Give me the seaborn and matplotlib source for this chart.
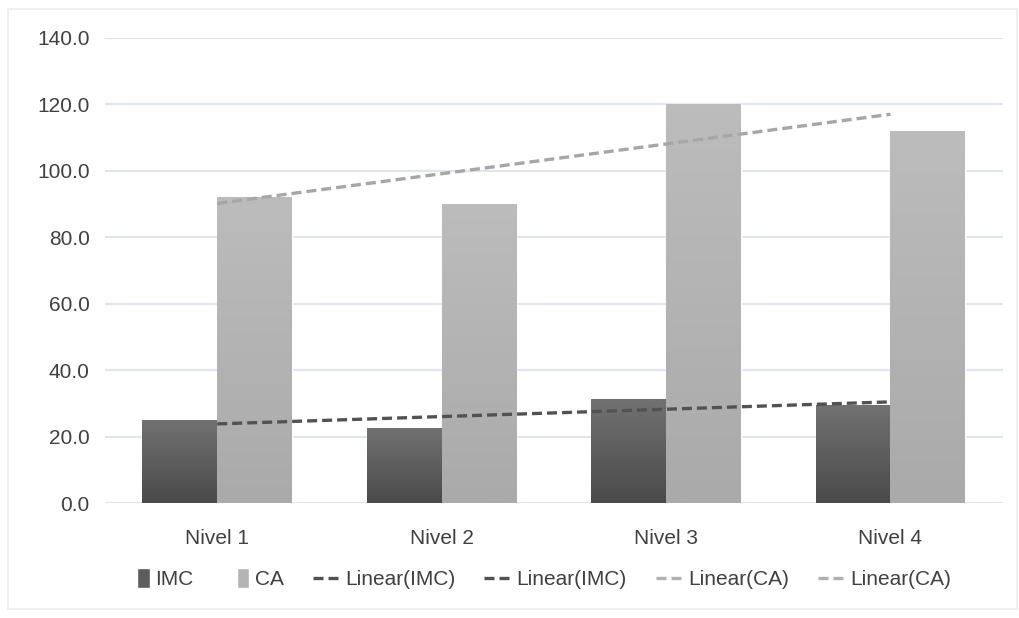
import numpy as np
import pandas as pd
import matplotlib.pyplot as plt
import seaborn as sns
from matplotlib.patches import Patch, Rectangle
from matplotlib.lines import Line2D
from matplotlib.colors import LinearSegmentedColormap
from matplotlib.legend_handler import HandlerPatch

# Datos
niveles = ["Nivel 1", "Nivel 2", "Nivel 3", "Nivel 4"]
imc = [25.0, 22.7, 31.3, 29.5]
ca = [92.2, 90.0, 120.0, 112.0]
series = ["IMC", "CA"]
yticks = [0, 20, 40, 60, 80, 100, 120, 140]

df = pd.DataFrame({
    "nivel": niveles * 2,
    "serie": ["IMC"] * 4 + ["CA"] * 4,
    "valor": imc + ca,
})

sns.set_style("white")
plt.rcParams["font.family"] = ["Liberation Sans", "DejaVu Sans"]

fig = plt.figure(figsize=(10.19, 6.18), dpi=100)
ax = fig.add_axes([0.103, 0.186, 0.881, 0.753])

sns.barplot(data=df, x="nivel", y="valor", hue="serie", order=niveles,
            hue_order=series, palette={"IMC": "#5c5c5c", "CA": "#b4b4b4"},
            width=0.667, saturation=1, legend=False, ax=ax, zorder=2)

# degradado en las barras
cmap_imc = LinearSegmentedColormap.from_list("imc", ["#4a4a4a", "#727272"])
cmap_ca = LinearSegmentedColormap.from_list("ca", ["#aaaaaa", "#bcbcbc"])
grad = np.linspace(0, 1, 256).reshape(-1, 1)
for i, p in enumerate(ax.patches):
    cmap = cmap_imc if i < 4 else cmap_ca
    x0, y0 = p.get_x(), p.get_y()
    w, h = p.get_width(), p.get_height()
    im = ax.imshow(grad, cmap=cmap, origin="lower", aspect="auto",
                   extent=[x0, x0 + w, y0, y0 + h], zorder=2.5)
    im.set_clip_path(p)

# lineas de tendencia lineal
xs = np.arange(len(niveles))
fit_imc = np.polyval(np.polyfit(xs, imc, 1), xs)
fit_ca = np.polyval(np.polyfit(xs, ca, 1), xs)
ax.plot(xs, fit_ca, color="#a6a6a6", lw=2.4, ls=(0, (3, 1.5)), zorder=3)
ax.plot(xs, fit_imc, color="#525252", lw=2.4, ls=(0, (3, 1.5)), zorder=3)

ax.set_xlim(-0.5, 3.5)
ax.set_ylim(0, 140)
ax.set_yticks(yticks)
ax.set_yticklabels([f"{v:.1f}" for v in yticks])
ax.yaxis.grid(True, color="#e1e4ec", lw=1.6, zorder=0)
ax.set_axisbelow(True)
for s in ax.spines.values():
    s.set_visible(False)
ax.tick_params(axis="both", length=0, labelsize=15, colors="#404040")
ax.tick_params(axis="x", pad=19)
ax.tick_params(axis="y", pad=11)
ax.set_xlabel("")
ax.set_ylabel("")


def cuadro(legend, orig_handle, xdescent, ydescent, width, height, fontsize):
    # cuadrito estrecho como en la leyenda original
    return Rectangle((width * 0.55 - xdescent, -ydescent - 0.15 * height),
                     width * 0.45, height * 1.3)


handles = [
    Patch(facecolor="#5c5c5c", label="IMC"),
    Patch(facecolor="#b4b4b4", label="CA"),
    Line2D([], [], color="#525252", lw=2.4, ls=(0, (3, 1.5)), label="Linear(IMC)"),
    Line2D([], [], color="#525252", lw=2.4, ls=(0, (3, 1.5)), label="Linear(IMC)"),
    Line2D([], [], color="#b0b0b0", lw=2.4, ls=(0, (3, 1.5)), label="Linear(CA)"),
    Line2D([], [], color="#b0b0b0", lw=2.4, ls=(0, (3, 1.5)), label="Linear(CA)"),
]
fig.legend(handles=handles, loc="center", bbox_to_anchor=(0.527, 0.062), ncol=6,
           frameon=False, fontsize=15, handlelength=1.3, handleheight=0.8,
           handletextpad=0.25, columnspacing=1.4, labelcolor="#404040",
           handler_map={Patch: HandlerPatch(patch_func=cuadro)})

# marco exterior tenue
fig.patches.append(Rectangle((0.008, 0.015), 0.99, 0.97, transform=fig.transFigure,
                             fill=False, edgecolor="#ececec", lw=1.2))

fig.savefig("out.png", dpi=100)
